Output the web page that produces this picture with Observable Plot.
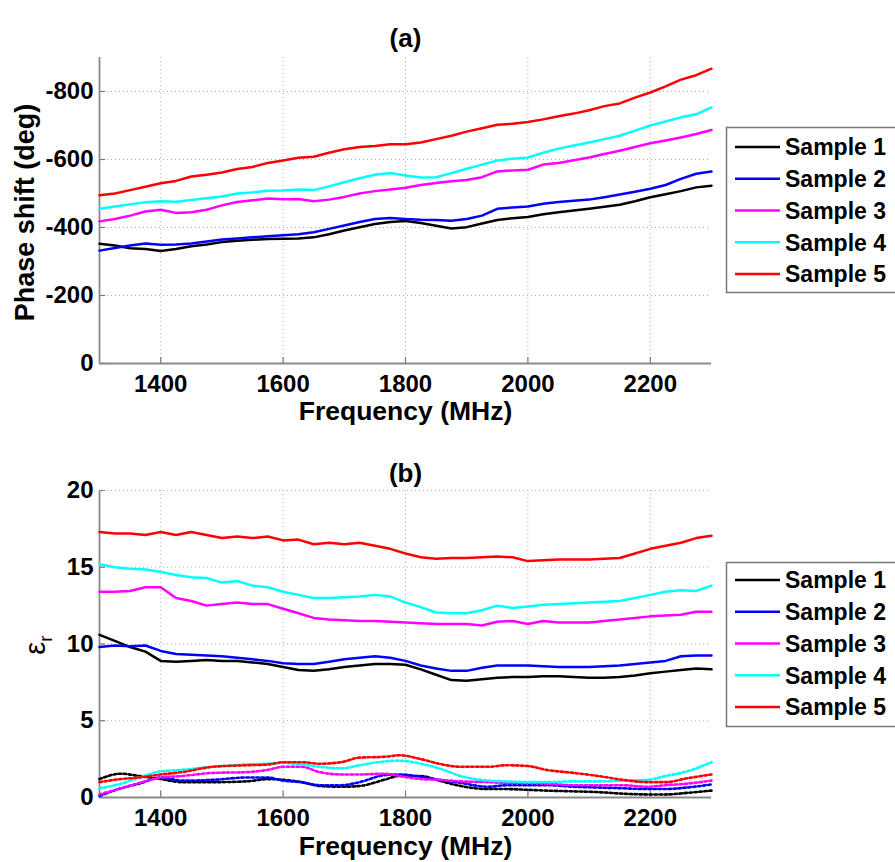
<!DOCTYPE html>
<html>
<head>
<meta charset="utf-8">
<script src="https://cdn.jsdelivr.net/npm/d3@7"></script>
<script src="https://cdn.jsdelivr.net/npm/@observablehq/plot@0.6"></script>
<style>
  html, body { margin: 0; padding: 0; background: #fff; overflow: hidden; }
  #wrap { position: relative; width: 895px; height: 862px; }
  #pa { position: absolute; left: 0; top: 0; }
  #pb { position: absolute; left: 0; top: 435px; }
  #overlay { position: absolute; left: 0; top: 0; pointer-events: none; }
</style>
</head>
<body>
<div id="wrap">
  <div id="pa"></div>
  <div id="pb"></div>
</div>
<script>
// ---------- data ----------
const samples = ["Sample 1", "Sample 2", "Sample 3", "Sample 4", "Sample 5"];
const colors = ["#000000", "#0000ff", "#ff00ff", "#00ffff", "#ff0000"];
const xTicks = [1400, 1600, 1800, 2000, 2200];
const yTicksA = [0, -200, -400, -600, -800];
const yTicksB = [0, 5, 10, 15, 20];

const freq = [1300,1325,1350,1375,1400,1425,1450,1475,1500,1525,1550,1575,1600,1625,1650,1675,1700,1725,1750,1775,1800,1825,1850,1875,1900,1925,1950,1975,2000,2025,2050,2075,2100,2125,2150,2175,2200,2225,2250,2275,2300];

// (a) phase shift magnitude (deg), plotted as negative values
const phase1 = [352,347,339,337,331,337,345,350,357,361,364,366,367,368,371,380,391,401,410,416,419,413,405,397,401,412,422,427,431,439,445,450,455,461,467,477,489,498,507,518,523];
const phase2 = [332,340,347,353,349,350,353,359,365,368,371,374,377,380,386,396,406,416,425,428,425,423,422,420,425,435,455,459,462,470,475,479,482,489,497,505,514,525,543,558,565];
const phase3 = [418,425,435,447,452,443,445,452,465,475,480,485,483,484,477,482,490,500,507,512,517,525,531,536,540,548,565,568,570,585,590,598,606,616,626,637,648,656,665,675,687];
const phase4 = [455,462,468,474,477,476,481,486,491,500,503,508,509,512,510,521,533,545,555,560,553,547,548,560,573,585,597,602,606,620,632,641,650,660,670,685,700,712,724,733,753];
const phase5 = [495,500,510,520,530,537,550,555,562,572,578,590,597,605,608,620,630,637,640,645,645,650,660,670,682,692,702,705,710,718,727,735,745,757,765,782,797,815,835,848,867];

// (b) real part of permittivity (solid)
const epsRe1 = [10.6,10.2,9.8,9.5,8.9,8.85,8.9,8.95,8.9,8.9,8.8,8.7,8.5,8.3,8.25,8.35,8.5,8.6,8.7,8.7,8.65,8.35,8.0,7.65,7.6,7.7,7.8,7.85,7.85,7.9,7.9,7.85,7.8,7.8,7.85,7.95,8.1,8.2,8.3,8.4,8.35];
const epsRe2 = [9.8,9.9,9.85,9.9,9.55,9.35,9.3,9.25,9.2,9.1,9.0,8.9,8.75,8.7,8.7,8.85,9.0,9.1,9.2,9.1,8.9,8.6,8.4,8.25,8.25,8.45,8.6,8.6,8.6,8.55,8.5,8.5,8.5,8.55,8.6,8.7,8.8,8.9,9.2,9.25,9.25];
const epsRe3 = [13.4,13.4,13.45,13.7,13.7,13.0,12.8,12.5,12.6,12.7,12.6,12.6,12.3,12.0,11.7,11.6,11.55,11.5,11.5,11.45,11.4,11.35,11.3,11.3,11.3,11.2,11.45,11.5,11.3,11.5,11.4,11.4,11.4,11.5,11.6,11.7,11.8,11.85,11.9,12.1,12.1];
const epsRe4 = [15.2,15.0,14.9,14.85,14.7,14.5,14.35,14.3,14.0,14.1,13.8,13.7,13.4,13.2,13.0,13.0,13.05,13.1,13.2,13.1,12.7,12.4,12.05,12.0,12.0,12.2,12.5,12.35,12.45,12.55,12.6,12.65,12.7,12.75,12.8,13.0,13.2,13.4,13.5,13.45,13.8];
const epsRe5 = [17.3,17.2,17.2,17.1,17.3,17.1,17.3,17.1,16.9,17.0,16.9,17.0,16.75,16.8,16.5,16.6,16.5,16.6,16.4,16.2,15.9,15.65,15.55,15.6,15.6,15.65,15.7,15.65,15.4,15.45,15.5,15.5,15.5,15.55,15.6,15.9,16.2,16.4,16.6,16.9,17.05];

// (b) imaginary part (dotted)
const freqIm = [1300,1335,1365,1400,1435,1485,1540,1575,1600,1630,1660,1695,1725,1765,1790,1825,1855,1890,1935,1965,2000,2030,2075,2115,2155,2195,2225,2260,2300];
const epsIm1 = [1.2,1.55,1.4,1.2,1.0,1.0,1.05,1.2,1.15,1.0,0.75,0.7,0.75,1.15,1.4,1.4,1.1,0.75,0.55,0.55,0.5,0.45,0.4,0.35,0.25,0.2,0.2,0.3,0.45];
const epsIm2 = [0.1,0.6,0.9,1.3,1.1,1.15,1.3,1.3,1.1,1.0,0.8,0.8,1.0,1.45,1.5,1.35,1.15,0.95,0.7,0.8,0.8,0.8,0.7,0.65,0.6,0.55,0.55,0.65,0.85];
const epsIm3 = [0.2,0.6,0.95,1.3,1.4,1.6,1.65,1.8,2.0,2.0,1.65,1.5,1.5,1.55,1.4,1.2,1.15,1.05,1.0,0.95,0.95,0.9,0.8,0.8,0.8,0.7,0.8,0.9,1.1];
const epsIm4 = [0.6,0.9,1.3,1.7,1.8,2.0,2.15,2.2,2.25,2.15,2.0,1.9,2.1,2.35,2.4,2.2,1.9,1.4,1.1,1.05,1.0,1.0,1.05,1.05,1.1,1.15,1.4,1.7,2.3];
const epsIm5 = [1.0,1.2,1.3,1.5,1.65,2.0,2.1,2.15,2.3,2.3,2.2,2.3,2.6,2.65,2.75,2.5,2.2,2.0,2.0,2.1,2.05,1.8,1.6,1.4,1.15,1.0,1.0,1.25,1.5];

// ---------- tables ----------
function longTable(xs, series, sign) {
  const out = [];
  series.forEach((arr, i) => arr.forEach((v, j) => out.push({f: xs[j], v: sign * v, s: samples[i]})));
  return out;
}
const dataA = longTable(freq, [phase1, phase2, phase3, phase4, phase5], -1);
const dataRe = longTable(freq, [epsRe1, epsRe2, epsRe3, epsRe4, epsRe5], 1);
const dataIm = longTable(freqIm, [epsIm1, epsIm2, epsIm3, epsIm4, epsIm5], 1);

const FONT = "'Liberation Sans', Arial, Helvetica, sans-serif";
const colorScale = {domain: samples, range: colors};

function baseMarks(yTicks, y0, tickLenY, title, titleDy, xlabDy) {
  return [
    Plot.gridX(xTicks, {stroke: "#b0b0b0", strokeOpacity: 1, strokeDasharray: "1,3", strokeWidth: 1}),
    Plot.gridY(yTicks.filter(d => d !== 0), {stroke: "#b0b0b0", strokeOpacity: 1, strokeDasharray: "1,3", strokeWidth: 1}),
    Plot.ruleX(xTicks, {y1: y0, y2: tickLenY, stroke: "#777", strokeWidth: 1.2}),
    Plot.ruleY(yTicks, {x1: 1300, x2: 1310, stroke: "#777", strokeWidth: 1.2}),
    Plot.axisX({ticks: xTicks, tickSize: 0, tickPadding: 11, label: null, tickFormat: d => String(d),
      fontSize: 24, fontWeight: "bold", fill: "#000"}),
    Plot.axisY({ticks: yTicks, tickSize: 0, tickPadding: 6, label: null, tickFormat: d => String(d),
      fontSize: 24, fontWeight: "bold", fill: "#000"}),
    Plot.ruleX([1300], {stroke: "#8a8a8a", strokeWidth: 1.8}),
    Plot.ruleY([y0], {stroke: "#8a8a8a", strokeWidth: 1.8}),
    Plot.text([title], {frameAnchor: "top", dy: titleDy, fontSize: 26, fontWeight: "bold", fill: "#000"}),
    Plot.text(["Frequency (MHz)"], {frameAnchor: "bottom", dy: xlabDy, fontSize: 26.5, fontWeight: "bold", fill: "#000"})
  ];
}

const plotA = Plot.plot({
  width: 720, height: 430,
  marginLeft: 99, marginRight: 9, marginTop: 57, marginBottom: 67,
  style: {fontFamily: FONT, background: "transparent", color: "#000", overflow: "visible"},
  x: {domain: [1300, 2300]},
  y: {domain: [0, -900]},
  color: colorScale,
  marks: [
    ...baseMarks(yTicksA, 0, -18, "(a)", -29, 56),
    Plot.text(["Phase shift (deg)"], {frameAnchor: "left", textAnchor: "middle", dx: -74, dy: 2, rotate: -90, fontSize: 27, fontWeight: "bold", fill: "#000"}),
    Plot.line(dataA, {x: "f", y: "v", z: "s", stroke: "s", strokeWidth: 2.5})
  ]
});
document.getElementById("pa").appendChild(plotA);

const plotB = Plot.plot({
  width: 720, height: 427,
  marginLeft: 99, marginRight: 9, marginTop: 55, marginBottom: 65,
  style: {fontFamily: FONT, background: "transparent", color: "#000", overflow: "visible"},
  x: {domain: [1300, 2300]},
  y: {domain: [0, 20]},
  color: colorScale,
  marks: [
    ...baseMarks(yTicksB, 0, 0.4, "(b)", -27, 57),
    Plot.gridY([20], {stroke: "#b0b0b0", strokeOpacity: 1, strokeDasharray: "1,3", strokeWidth: 1}),
    Plot.line(dataIm, {x: "f", y: "v", z: "s", stroke: "s", strokeWidth: 2.6, strokeDasharray: "2.5,2.5", curve: "monotone-x"}),
    Plot.line(dataRe, {x: "f", y: "v", z: "s", stroke: "s", strokeWidth: 2.5})
  ]
});
document.getElementById("pb").appendChild(plotB);

// epsilon_r label
const sb = d3.select(plotB);
const lab = sb.append("text")
  .attr("transform", "translate(45,210) rotate(-90)")
  .attr("text-anchor", "middle")
  .attr("font-family", FONT)
  .attr("font-size", 29)
  .attr("fill", "#000");
lab.append("tspan").text("ε");
lab.append("tspan").attr("font-size", 19).attr("dy", 7).text("r");

// legends
const ov = d3.select("#wrap").append("svg").attr("id", "overlay").attr("width", 895).attr("height", 862);
function legend(top, bottom, rows) {
  ov.append("rect").attr("x", 726.5).attr("y", top + 0.5).attr("width", 200).attr("height", bottom - top)
    .attr("fill", "#fff").attr("stroke", "#777").attr("stroke-width", 1.5);
  samples.forEach((s, i) => {
    const y = rows[0] + i * rows[1];
    ov.append("line").attr("x1", 735).attr("x2", 780).attr("y1", y).attr("y2", y)
      .attr("stroke", colors[i]).attr("stroke-width", 2.6);
    ov.append("text").attr("x", 785).attr("y", y).attr("dy", "0.36em")
      .attr("font-family", FONT).attr("font-weight", "bold").attr("font-size", 23).attr("fill", "#000").text(s);
  });
}
legend(127, 292, [147, 31.75]);
legend(562, 726, [580, 31.75]);
</script>
</body>
</html>
